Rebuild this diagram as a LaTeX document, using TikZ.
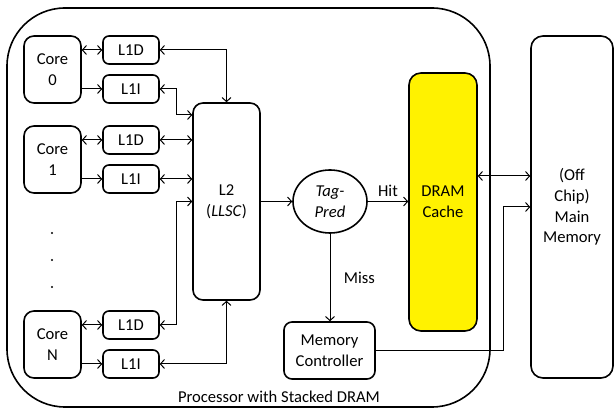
\documentclass[tikz,border=0pt]{standalone}
\usepackage{fontspec}
\setmainfont{Carlito}
\usetikzlibrary{arrows.meta,shapes.geometric}
\begin{document}
\begin{tikzpicture}[x=1pt,y=-1pt,
  txt/.style={font=\fontsize{16.6}{20.6}\selectfont, align=center},
  box/.style={txt, draw, line width=1.6pt, rounded corners=#1, inner sep=0pt},
  box/.default=6pt,
  conn/.style={line width=1pt, arrows={-Straight Barb[length=4pt,width=9pt]}},
  dconn/.style={line width=1pt, arrows={Straight Barb[length=4pt,width=9pt]-Straight Barb[length=4pt,width=9pt]}},
  dot/.style={circle, fill, inner sep=0pt, minimum size=2.4pt}
]
\useasboundingbox (0,0) rectangle (614,411);
% outer processor box
\draw[line width=1.6pt, rounded corners=58pt] (7,8) rectangle (490,407);
\node[txt, anchor=center] (proc) at (279,397) {Processor with Stacked DRAM};

% cores
\node[box=10pt, minimum width=57pt, minimum height=67pt] (core0) at (52.5,69.5) {Core\\0};
\node[box=10pt, minimum width=57pt, minimum height=67pt] (core1) at (52.5,159.5) {Core\\1};
\node[box=10pt, minimum width=57pt, minimum height=67pt] (coreN) at (52.5,344.5) {Core\\N};

% L1 caches
\node[box, minimum width=56pt, minimum height=28pt] (l1d0) at (131,50) {L1D};
\node[box, minimum width=56pt, minimum height=28pt] (l1i0) at (131,89) {L1I};
\node[box, minimum width=56pt, minimum height=28pt] (l1d1) at (131,140) {L1D};
\node[box, minimum width=56pt, minimum height=28pt] (l1i1) at (131,179) {L1I};
\node[box, minimum width=56pt, minimum height=28pt] (l1dN) at (131,325) {L1D};
\node[box, minimum width=56pt, minimum height=28pt] (l1iN) at (131,364) {L1I};

% dots
\node[dot] (d1) at (52,233) {};
\node[dot] (d2) at (52,260) {};
\node[dot] (d3) at (52,287) {};

% L2
\node[box=10pt, minimum width=67pt, minimum height=197pt] (l2) at (226.5,201.5) {L2\\(\textit{LLSC})};

% tag predictor
\node[txt, draw, line width=1.6pt, ellipse, minimum width=74pt, minimum height=63pt, inner sep=0pt] (tag) at (330,201.5) {\textit{Tag-}\\\textit{Pred}};

% DRAM cache
\node[box=12pt, fill=yellow, minimum width=68pt, minimum height=258pt] (dram) at (443,202) {DRAM\\Cache};

% main memory
\node[box=12pt, minimum width=82pt, minimum height=342pt] (mm) at (572,207) {(Off\\Chip)\\Main\\Memory};

% memory controller
\node[box=8pt, minimum width=91pt, minimum height=57pt] (mc) at (329.5,350.5) {Memory\\Controller};

% core <-> L1
\draw[dconn] (core0.east |- l1d0.west) -- (l1d0.west);
\draw[conn] (core0.east |- l1i0.west) -- (l1i0.west);
\draw[dconn] (core1.east |- l1d1.west) -- (l1d1.west);
\draw[conn] (core1.east |- l1i1.west) -- (l1i1.west);
\draw[dconn] (coreN.east |- l1dN.west) -- (l1dN.west);
\draw[conn] (coreN.east |- l1iN.west) -- (l1iN.west);

% L1 <-> L2
\draw[dconn] (l1d0.east) -| (l2.north);
\draw[dconn] (l1i0.east) -| (176,115) -- (l2.west |- 176,115);
\draw[dconn] (l1d1.east) -- (l2.west |- l1d1.east);
\draw[dconn] (l1i1.east) -- (l2.west |- l1i1.east);
\draw[dconn] (l1dN.east) -| (176,201.5) -- (l2.west);
\draw[dconn] (l1iN.east) -| (l2.south);

% L2 -> tag
\draw[conn] (l2.east) -- (tag.west);
% tag -> dram (Hit)
\draw[conn] (tag.east) -- node[txt, above, yshift=1pt] (hit) {Hit} (dram.west |- tag.east);
% tag -> mc (Miss)
\draw[conn] (tag.south) -- node[txt, right, xshift=10pt] (miss) {Miss} (tag.south |- mc.north);
% dram <-> main memory
\draw[dconn] (dram.east |- 0,176) -- (mm.west |- 0,176);
% mc -> main memory
\draw[conn] (mc.east) -| (503,207) -- (mm.west);
\end{tikzpicture}
\end{document}
